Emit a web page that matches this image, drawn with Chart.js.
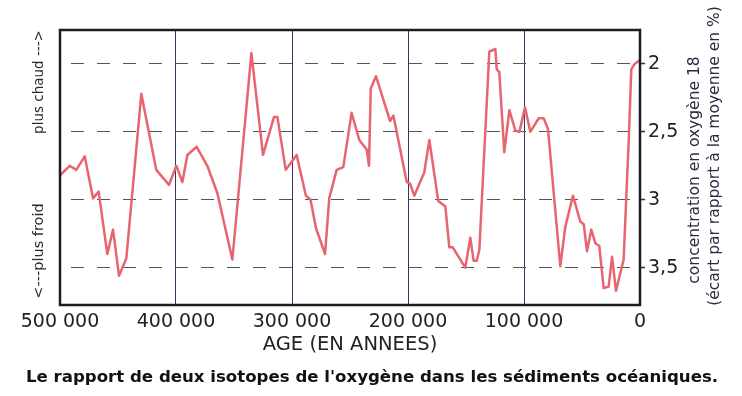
<!DOCTYPE html>
<html>
<head>
<meta charset="utf-8">
<script src="https://cdn.jsdelivr.net/npm/chart.js@4/dist/chart.umd.min.js"></script>
<style>
  html, body { margin: 0; padding: 0; background: #fff; }
  #wrap { width: 742px; height: 396px; position: relative; }
</style>
</head>
<body>
<div id="wrap"><canvas id="c" width="742" height="396"></canvas></div>
<script>
// Age in years before present
const ages = [
  500000, 491600, 486000, 478700, 471500, 466700, 459200, 454300, 449100, 442800,
  429900, 417000, 406000, 399700, 394500, 390200, 382200, 373000, 364400, 351400,
  335000, 325000, 315500, 312600, 305400, 296000, 288000, 284000, 279300, 271500,
  267900, 261500, 255800, 248600, 242000, 235600, 233600, 232100, 227600, 215500,
  212600, 201100, 198300, 194600, 186000, 181600, 173900, 167800, 164400, 161500,
  150600, 146300, 143400, 140800, 138500, 129900, 124700, 123500, 121300, 117000,
  112600, 107500, 104000, 99100, 94600, 87300, 83000, 79300, 68700, 64400,
  57800, 51500, 48500, 45700, 42000, 38500, 35100, 31300, 27000, 24100,
  20700, 14100, 9700, 7500, 4600, 0
];
// Oxygen-18 concentration (deviation from mean, %)
const o18 = [
  2.82, 2.75, 2.78, 2.68, 2.99, 2.94, 3.40, 3.22, 3.56, 3.43,
  2.22, 2.78, 2.89, 2.75, 2.87, 2.67, 2.61, 2.75, 2.95, 3.44,
  1.92, 2.67, 2.39, 2.39, 2.78, 2.67, 2.97, 3.00, 3.21, 3.40,
  2.99, 2.78, 2.76, 2.36, 2.56, 2.63, 2.75, 2.18, 2.09, 2.42,
  2.38, 2.87, 2.88, 2.97, 2.80, 2.56, 3.01, 3.05, 3.35, 3.35,
  3.50, 3.28, 3.45, 3.45, 3.37, 1.91, 1.89, 2.04, 2.06, 2.65,
  2.34, 2.49, 2.50, 2.32, 2.50, 2.40, 2.40, 2.48, 3.49, 3.20,
  2.97, 3.16, 3.18, 3.38, 3.22, 3.32, 3.34, 3.65, 3.64, 3.42,
  3.67, 3.44, 2.56, 2.04, 2.00, 1.97
];
const xTicks = [500000, 400000, 300000, 200000, 100000, 0];
const yTicks = [2, 2.5, 3, 3.5];
const xTitle = 'AGE (EN ANNEES)';
const yTitleLines = ['concentration en oxygène 18', '(écart par rapport à la moyenne en %)'];
const warmLabel = 'plus chaud --->';
const coldLabel = '<---plus froid';
const caption = "Le rapport de deux isotopes de l'oxygène dans les sédiments océaniques.";

const FONT = '"DejaVu Sans", Verdana, sans-serif';

function fmtAge(v) {
  return String(v).replace(/\B(?=(\d{3})+(?!\d))/g, ' ');
}

function rotText(ctx, text, x, y) {
  ctx.save();
  ctx.translate(x, y);
  ctx.rotate(-Math.PI / 2);
  ctx.fillText(text, 0, 0);
  ctx.restore();
}

const decor = {
  id: 'decor',
  afterDraw(chart) {
    const { ctx, chartArea: a } = chart;
    ctx.save();
    ctx.strokeStyle = '#1c1c28';
    ctx.lineWidth = 2.5;
    ctx.strokeRect(a.left, a.top, a.right - a.left, a.bottom - a.top);

    ctx.textAlign = 'center';
    ctx.textBaseline = 'middle';
    ctx.fillStyle = '#2a2a35';
    ctx.font = '13.5px ' + FONT;
    rotText(ctx, warmLabel, 39, 82);
    ctx.font = '14.5px ' + FONT;
    rotText(ctx, coldLabel, 39, 251);

    ctx.fillStyle = '#2a2a40';
    ctx.font = '15.5px ' + FONT;
    rotText(ctx, yTitleLines[0], 695, 170);
    rotText(ctx, yTitleLines[1], 715, 156);

    ctx.fillStyle = '#111';
    ctx.font = 'bold 16.6px ' + FONT;
    ctx.fillText(caption, 372, 378);
    ctx.restore();
  }
};

new Chart(document.getElementById('c'), {
  type: 'line',
  data: {
    datasets: [{
      data: ages.map((a, i) => ({ x: a, y: o18[i] })),
      borderColor: '#e8646e',
      borderWidth: 2.5,
      pointRadius: 0,
      tension: 0,
      fill: false,
      borderJoinStyle: 'round'
    }]
  },
  options: {
    responsive: false,
    animation: false,
    events: [],
    layout: { padding: { top: 30, left: 60, right: 0, bottom: 0 } },
    plugins: { legend: { display: false }, tooltip: { enabled: false } },
    scales: {
      x: {
        type: 'linear',
        reverse: true,
        min: 0,
        max: 500000,
        afterBuildTicks: s => { s.ticks = xTicks.map(v => ({ value: v })); },
        afterFit: s => { s.height = 91; },
        border: { display: false },
        grid: {
          color: c => (c.tick && (c.tick.value === 0 || c.tick.value === 500000)) ? 'rgba(0,0,0,0)' : '#34345e',
          lineWidth: 1,
          drawTicks: false
        },
        ticks: {
          callback: v => fmtAge(v),
          color: '#222',
          font: { family: FONT, size: 19 },
          padding: 6,
          maxRotation: 0,
          autoSkip: false
        },
        title: {
          display: true,
          text: xTitle,
          color: '#222',
          font: { family: FONT, size: 19.5 },
          padding: { top: 0, bottom: 39 }
        }
      },
      y: {
        type: 'linear',
        position: 'right',
        reverse: true,
        min: 1.75,
        max: 3.775,
        afterBuildTicks: s => { s.ticks = yTicks.map(v => ({ value: v })); },
        afterFit: s => { s.width = 102; },
        border: { display: false, dash: [13, 13], dashOffset: 15 },
        grid: {
          color: '#555',
          lineWidth: 1,
          borderDash: [13, 13],
          borderDashOffset: 15,
          drawTicks: true,
          tickLength: 5,
          tickColor: '#333',
          tickBorderDash: [],
          tickWidth: 1.5
        },
        ticks: {
          callback: v => String(v).replace('.', ','),
          color: '#222',
          font: { family: FONT, size: 19 },
          padding: 3
        }
      }
    }
  },
  plugins: [decor]
});
</script>
</body>
</html>
